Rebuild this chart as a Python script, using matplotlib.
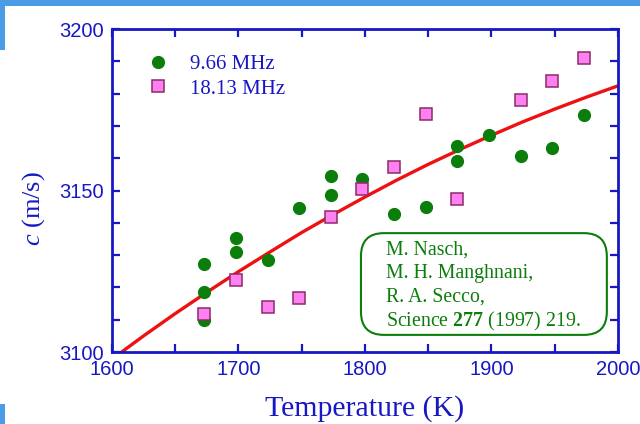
import matplotlib
matplotlib.use("Agg")
import matplotlib.pyplot as plt
from matplotlib.patches import Rectangle, FancyBboxPatch
from matplotlib.ticker import MultipleLocator

# Sound velocity of liquid metal vs temperature
temp_966 = [1673, 1673, 1673, 1698, 1698, 1723, 1748, 1773, 1773, 1798,
            1823, 1848, 1873, 1873, 1898, 1923, 1948, 1973]
c_966 = [3127.2, 3118.6, 3109.8, 3135.3, 3131.0, 3128.5, 3144.6, 3154.5,
         3148.6, 3153.6, 3142.6, 3145.0, 3163.8, 3159.0, 3167.2, 3160.7,
         3163.2, 3173.4]

temp_1813 = [1673, 1698, 1723, 1748, 1773, 1798, 1823, 1848, 1873, 1923,
             1948, 1973]
c_1813 = [3111.8, 3122.4, 3113.9, 3116.8, 3141.8, 3150.5, 3157.3, 3173.7,
          3147.4, 3178.0, 3183.9, 3191.1]

# Fitted curve, sampled
temp_fit = [1600, 1625, 1650, 1675, 1700, 1725, 1750, 1775, 1800, 1825,
            1850, 1875, 1900, 1925, 1950, 1975, 2000]
c_fit = [3097.8, 3105.0, 3111.9, 3118.5, 3124.9, 3131.0, 3137.0, 3142.6,
         3148.0, 3153.2, 3158.1, 3162.7, 3167.1, 3171.3, 3175.2, 3178.9,
         3182.4]

x_ticks = [1600, 1700, 1800, 1900, 2000]
y_ticks = [3100, 3150, 3200]

BLUE = "#1717c4"
GREEN = "#0b7d0b"
SERIF = ["Liberation Serif", "DejaVu Serif"]
SANS = ["Liberation Sans", "DejaVu Sans"]

plt.rcParams["mathtext.fontset"] = "custom"
plt.rcParams["mathtext.rm"] = "Liberation Serif"
plt.rcParams["mathtext.bf"] = "Liberation Serif:bold"
plt.rcParams["mathtext.it"] = "Liberation Serif:italic"

fig = plt.figure(figsize=(6.4, 4.24), dpi=100)
ax = fig.add_axes([0.175, 0.1698, 0.7906, 0.7618])

ax.plot(temp_fit, c_fit, color="#ee1111", lw=2.4, zorder=2,
        solid_capstyle="butt")
ax.plot(temp_966, c_966, "o", color=GREEN, ms=8.5, mec=GREEN, zorder=3,
        label="9.66 MHz")
ax.plot(temp_1813, c_1813, "s", color="#ff80f0", ms=8, mec="#8b2a6a",
        mew=1.1, zorder=4, label="18.13 MHz")

ax.set_xlim(1600, 2000)
ax.set_ylim(3100, 3200)
ax.set_xticks(x_ticks)
ax.set_yticks(y_ticks)
ax.xaxis.set_minor_locator(MultipleLocator(50))
ax.yaxis.set_minor_locator(MultipleLocator(10))
for which in ("major", "minor"):
    ax.tick_params(which=which, direction="in", length=6, width=1.6,
                   color=BLUE, top=True, right=True)
ax.tick_params(which="major", labelsize=14.5, labelcolor=BLUE, pad=6)
for lab in ax.get_xticklabels() + ax.get_yticklabels():
    lab.set_family(SANS)
for sp in ax.spines.values():
    sp.set_color(BLUE)
    sp.set_linewidth(2)

fig.text(0.5703, 0.020, "Temperature (K)", ha="center", va="baseline",
         color=BLUE, fontsize=21.5, family=SERIF)
fig.text(0.052, 0.507, r"$c$ (m/s)", ha="center", va="center",
         rotation=90, color=BLUE, fontsize=19, family=SERIF)

leg = ax.legend(loc="upper left", bbox_to_anchor=(0.03, 0.98), frameon=False,
                prop={"family": SERIF, "size": 15}, handletextpad=0.9,
                labelspacing=0.25, handlelength=1.2)
for t in leg.get_texts():
    t.set_color(BLUE)

box = FancyBboxPatch((0.492, 0.053), 0.486, 0.315, transform=ax.transAxes,
                     boxstyle="round,pad=0,rounding_size=0.045",
                     fc="white", ec=GREEN, lw=1.5, zorder=5,
                     mutation_aspect=1.6)
ax.add_patch(box)
lines = ["M. Nasch,", "M. H. Manghnani,", "R. A. Secco,",
         r"Science $\mathbf{277}$ (1997) 219."]
for i, s in enumerate(lines):
    ax.text(0.542, 0.316 - i * 0.0734, s, transform=ax.transAxes,
            color=GREEN, fontsize=14.3, family=SERIF, va="center",
            ha="left", zorder=6)

# Decorative blue frame strips
for (x0, y0, w, h) in [(0, 1 - 6 / 424, 1, 6 / 424),
                       (0, 1 - 50 / 424, 5 / 640, 50 / 424),
                       (0, 0, 5 / 640, 20 / 424)]:
    fig.patches.append(Rectangle((x0, y0), w, h, transform=fig.transFigure,
                                 fc="#4c9be6", ec="none"))

fig.savefig("out.png", dpi=100)
